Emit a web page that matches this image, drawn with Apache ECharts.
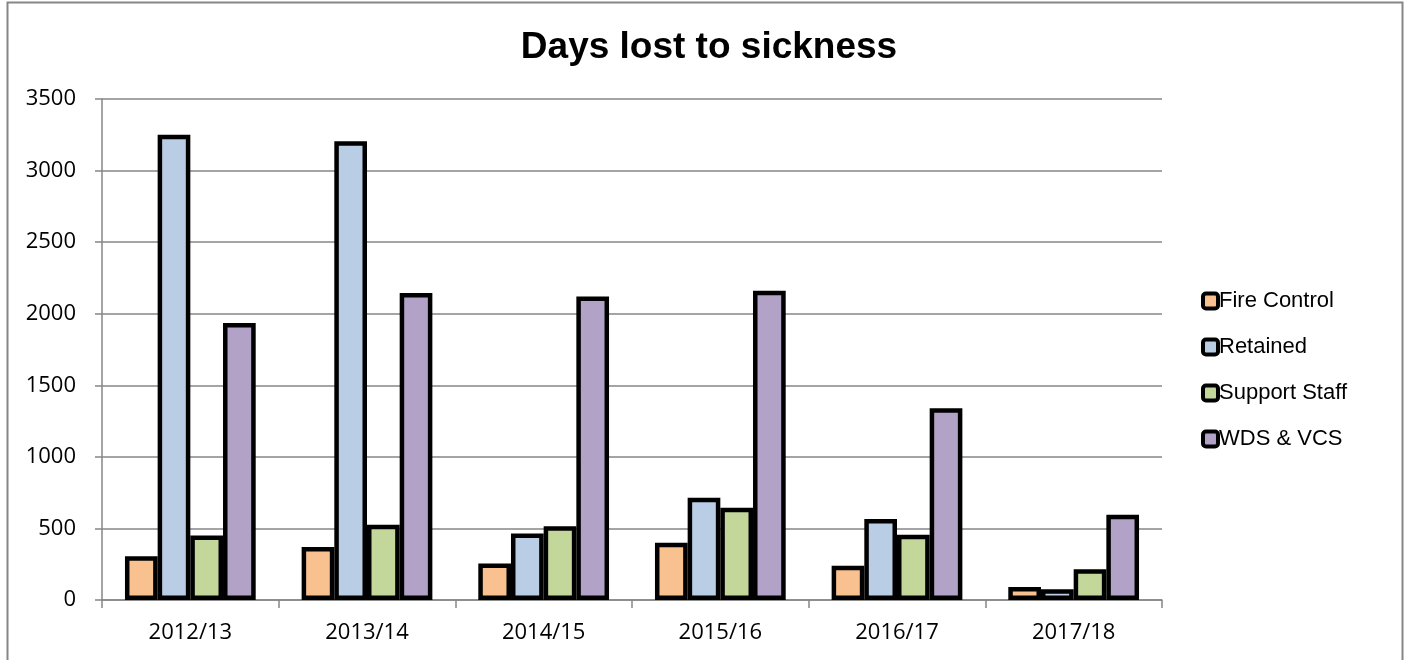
<!DOCTYPE html>
<html>
<head>
<meta charset="utf-8">
<script src="https://cdn.jsdelivr.net/npm/echarts@6/dist/echarts.min.js"></script>
<style>html,body{margin:0;padding:0;background:#fff}#c{width:1407px;height:660px}</style>
</head>
<body>
<div id="c"></div>
<script>
const categories = ['2012/13','2013/14','2014/15','2015/16','2016/17','2017/18'];
const fireControl = [305, 370, 255, 400, 240, 90];
const retained = [3250, 3205, 465, 715, 565, 75];
const supportStaff = [450, 525, 515, 645, 455, 215];
const wdsVcs = [1935, 2145, 2120, 2160, 1340, 595];
const yTicks = [0, 500, 1000, 1500, 2000, 2500, 3000, 3500];

const names = ['Fire Control','Retained','Support Staff','WDS & VCS'];
const colors = ['#F9C090','#B9CDE5','#C4D79B','#B2A2C7'];
const values = [fireControl, retained, supportStaff, wdsVcs];

const rich = {t: {fontFamily: 'Liberation Sans', fontSize: 22, color: '#000', padding: [0,0,0,3]}};
colors.forEach((c, i) => {
  rich['i' + i] = {width: 11, height: 11, backgroundColor: c, borderColor: '#000', borderWidth: 4, borderRadius: 1};
});

const chart = echarts.init(document.getElementById('c'));
chart.setOption({
  animation: false,
  backgroundColor: '#fff',
  title: {
    text: 'Days lost to sickness',
    left: 704, top: 24, textAlign: 'center',
    textStyle: {fontFamily: 'Liberation Sans', fontWeight: 'bold', fontSize: 37, color: '#000'}
  },
  graphic: [{
    type: 'rect', silent: true,
    shape: {x: 7.5, y: 2.5, width: 1395, height: 700},
    style: {fill: 'none', stroke: '#868686', lineWidth: 2}
  }],
  legend: {
    orient: 'vertical', left: 1195, top: 285,
    icon: 'none', itemWidth: 0, itemHeight: 0, itemGap: 24,
    formatter: name => '{i' + names.indexOf(name) + '|}{t|' + name + '}',
    textStyle: {fontFamily: 'Liberation Sans', fontSize: 22, color: '#000', rich: rich},
    data: names
  },
  grid: {left: 102, right: 245, top: 99, bottom: 60, containLabel: false},
  xAxis: {
    type: 'category', data: categories,
    axisLine: {lineStyle: {color: '#868686', width: 1.5}},
    axisTick: {show: true, length: 8, lineStyle: {color: '#868686', width: 1.5}},
    axisLabel: {fontFamily: 'Open Sans', fontSize: 22, color: '#000', margin: 22},
    splitLine: {show: false}
  },
  yAxis: {
    type: 'value', min: 0, max: 3500, interval: 500,
    axisLine: {show: true, lineStyle: {color: '#868686', width: 1.5}},
    axisTick: {show: true, length: 7, lineStyle: {color: '#868686', width: 1.5}},
    axisLabel: {fontFamily: 'Open Sans', fontSize: 22, color: '#000', margin: 26,
      formatter: v => yTicks.includes(v) ? String(v) : ''},
    splitLine: {lineStyle: {color: '#868686', width: 1.5}}
  },
  series: names.map((n, i) => ({
    name: n, type: 'bar', data: values[i],
    barGap: '0%', barCategoryGap: '26%',
    itemStyle: {color: colors[i], borderColor: '#000', borderWidth: 4.5}
  }))
});
</script>
</body>
</html>
